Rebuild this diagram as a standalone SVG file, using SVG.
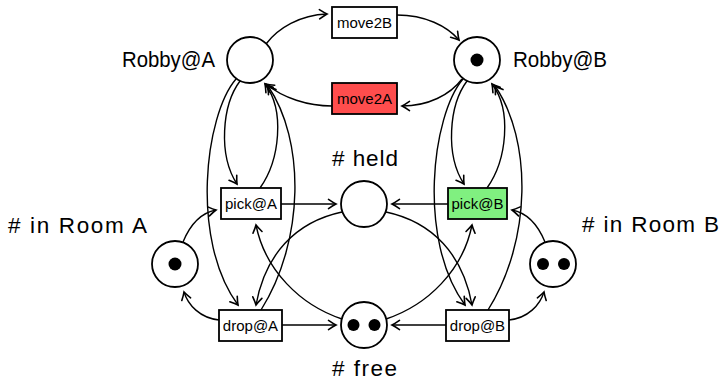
<svg xmlns="http://www.w3.org/2000/svg" width="722" height="381" viewBox="0 0 722 381">
  <style>
    .place { fill: #ffffff; stroke: #000000; stroke-width: 1.8; }
    .token { fill: #000000; }
    .trans { stroke: #000000; stroke-width: 1.8; }
    .tlabel { font-family: "Liberation Sans", Arial, sans-serif; font-size: 15px; fill: #000000; text-anchor: middle; }
    .plabel { font-family: "Liberation Sans", Arial, sans-serif; font-size: 22.5px; fill: #000000; }
    .arc { fill: none; stroke: #000000; stroke-width: 1.4; marker-end: url(#tip); }
  </style>
  <defs>
    <marker id="tip" markerUnits="userSpaceOnUse" orient="auto" refX="0" refY="0" markerWidth="12" markerHeight="12" overflow="visible">
      <path d="M-7.5,-4.6 Q-2.7,-1.3 0,0 Q-2.7,1.3 -7.5,4.6" fill="none" stroke="#000000" stroke-width="1.6" stroke-linecap="round"/>
    </marker>
  </defs>

  <!-- connectors -->
  <g id="connectors">
    <!-- moves between the rooms -->
    <path class="arc" d="M266,44 C278,28 300,15 327,14"/>
    <path class="arc" d="M397,15 C425,15 447,26 459,40"/>
    <path class="arc" d="M462,79 C450,95 428,106 402,106"/>
    <path class="arc" d="M332,106 C308,106 283,98 266,84"/>

    <!-- Robby@A read arcs -->
    <path class="arc" d="M240,81 C222,105 218,155 237,184"/>
    <path class="arc" d="M260,188 C280,160 285,110 265,84"/>
    <path class="arc" d="M236,79 C205,115 190,240 238,305"/>
    <path class="arc" d="M261,310 C305,240 305,140 268,86"/>

    <!-- Robby@B read arcs -->
    <g transform="translate(227,0)">
      <path class="arc" d="M240,81 C222,105 218,155 237,184"/>
      <path class="arc" d="M260,188 C280,160 285,110 265,84"/>
      <path class="arc" d="M236,79 C205,115 190,240 238,305"/>
      <path class="arc" d="M261,310 C305,240 305,140 268,86"/>
    </g>

    <!-- room A side -->
    <path class="arc" d="M281,204 L336,204"/>
    <path class="arc" d="M282,325 L336,325"/>
    <path class="arc" d="M342,212 C295,222 265,255 256,305"/>
    <path class="arc" d="M342,319 C300,305 265,270 256,225"/>
    <path class="arc" d="M183,242 C190,225 200,213 216,210"/>
    <path class="arc" d="M219,320 C200,318 188,305 184,292"/>

    <!-- room B side -->
    <path class="arc" d="M448,204 L392,204"/>
    <path class="arc" d="M446,325 L392,325"/>
    <path class="arc" d="M386,212 C433,222 463,255 472,305"/>
    <path class="arc" d="M386,319 C428,305 463,270 472,225"/>
    <path class="arc" d="M545,242 C538,225 528,213 512,210"/>
    <path class="arc" d="M509,320 C528,318 540,305 544,292"/>
  </g>

  <!-- places -->
  <g id="robbyA">
    <circle class="place" cx="250" cy="60" r="23"/>
    <text class="plabel" x="215" y="67" text-anchor="end" textLength="93" lengthAdjust="spacingAndGlyphs">Robby@A</text>
  </g>
  <g id="robbyB">
    <circle class="place" cx="477" cy="60" r="23"/>
    <circle class="token" cx="477" cy="60" r="6.5"/>
    <text class="plabel" x="513" y="67" textLength="94" lengthAdjust="spacingAndGlyphs">Robby@B</text>
  </g>
  <g id="held">
    <circle class="place" cx="364" cy="204" r="23"/>
    <text class="plabel" x="332" y="166" textLength="66" lengthAdjust="spacing"># held</text>
  </g>
  <g id="free">
    <circle class="place" cx="364" cy="325" r="23"/>
    <circle class="token" cx="353.5" cy="325" r="6"/>
    <circle class="token" cx="374.5" cy="325" r="6"/>
    <text class="plabel" x="332" y="376" textLength="65" lengthAdjust="spacing"># free</text>
  </g>
  <g id="roomA">
    <circle class="place" cx="175" cy="264" r="23"/>
    <circle class="token" cx="175" cy="264" r="6.5"/>
    <text class="plabel" x="8" y="233" textLength="139" lengthAdjust="spacing"># in Room A</text>
  </g>
  <g id="roomB">
    <circle class="place" cx="553" cy="264" r="23"/>
    <circle class="token" cx="543" cy="264" r="6"/>
    <circle class="token" cx="564" cy="264" r="6"/>
    <text class="plabel" x="582" y="232" textLength="137" lengthAdjust="spacing"># in Room B</text>
  </g>

  <!-- transitions -->
  <g id="move2B">
    <rect class="trans" x="332" y="7" width="65" height="31" fill="#ffffff"/>
    <text class="tlabel" x="364.5" y="28">move2B</text>
  </g>
  <g id="move2A">
    <rect class="trans" x="332" y="83" width="65" height="31" fill="#ff4d4d"/>
    <text class="tlabel" x="364.5" y="104">move2A</text>
  </g>
  <g id="pickA">
    <rect class="trans" x="221" y="188" width="60" height="31" fill="#ffffff"/>
    <text class="tlabel" x="251" y="209">pick@A</text>
  </g>
  <g id="pickB">
    <rect class="trans" x="448" y="188" width="59" height="31" fill="#80f080"/>
    <text class="tlabel" x="477.5" y="209">pick@B</text>
  </g>
  <g id="dropA">
    <rect class="trans" x="219" y="310" width="63" height="31" fill="#ffffff"/>
    <text class="tlabel" x="250.5" y="331">drop@A</text>
  </g>
  <g id="dropB">
    <rect class="trans" x="446" y="310" width="63" height="31" fill="#ffffff"/>
    <text class="tlabel" x="477.5" y="331">drop@B</text>
  </g>
</svg>
